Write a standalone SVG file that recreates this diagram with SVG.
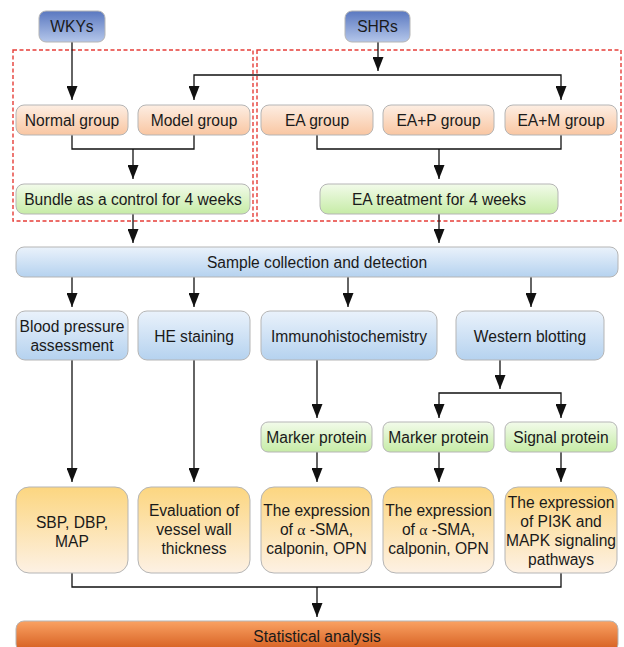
<svg xmlns="http://www.w3.org/2000/svg" width="624" height="647" viewBox="0 0 624 647">
<defs>
<linearGradient id="gBlueD" x1="0" y1="0" x2="0" y2="1"><stop offset="0" stop-color="#5a78c0"/><stop offset="1" stop-color="#b4c6ea"/></linearGradient>
<linearGradient id="gOr" x1="0" y1="0" x2="0" y2="1"><stop offset="0" stop-color="#fdeee3"/><stop offset="1" stop-color="#f9c6a2"/></linearGradient>
<linearGradient id="gGr" x1="0" y1="0" x2="0" y2="1"><stop offset="0" stop-color="#f2fbea"/><stop offset="1" stop-color="#c6eca6"/></linearGradient>
<linearGradient id="gBl" x1="0" y1="0" x2="0" y2="1"><stop offset="0" stop-color="#eaf2fb"/><stop offset="1" stop-color="#b5d2ef"/></linearGradient>
<linearGradient id="gYe" x1="0" y1="0" x2="0" y2="1"><stop offset="0" stop-color="#fcd680"/><stop offset="1" stop-color="#fdf1e4"/></linearGradient>
<linearGradient id="gSt" x1="0" y1="0" x2="0" y2="1"><stop offset="0" stop-color="#faa263"/><stop offset="1" stop-color="#d35a1c"/></linearGradient>
<marker id="ah" markerWidth="14" markerHeight="11" refX="14" refY="5.5" orient="auto-start-reverse" markerUnits="userSpaceOnUse" viewBox="0 0 14 11">
<path d="M0,0 L14,5.5 L0,11 Z" fill="#111"/>
</marker>
</defs>
<style>
text{font-family:"Liberation Sans",Arial,sans-serif;font-size:15.6px;fill:#1a1a1a;text-anchor:middle}
.box{stroke:#b5b5b5;stroke-width:1}
.ln{fill:none;stroke:#111;stroke-width:1.3}
.dash{fill:none;stroke:#e63e38;stroke-width:1.4;stroke-dasharray:4,2.5}
.al{font-family:"Liberation Serif","DejaVu Serif",serif}
</style>

<rect class="dash" x="13" y="50" width="240" height="171"/>
<rect class="dash" x="257" y="50" width="364" height="171"/>

<g id="connectors">
<path class="ln" d="M72,42 V100" marker-end="url(#ah)"/>
<path class="ln" d="M378,42 V71" marker-end="url(#ah)"/>
<path class="ln" d="M194,100 V75 H561 V100" marker-end="url(#ah)" marker-start="url(#ah)"/>
<path class="ln" d="M72,135 V149 H194 V135"/>
<path class="ln" d="M133,149 V179" marker-end="url(#ah)"/>
<path class="ln" d="M317,135 V149 H561 V135"/>
<path class="ln" d="M439,149 V179" marker-end="url(#ah)"/>
<path class="ln" d="M133,214 V243" marker-end="url(#ah)"/>
<path class="ln" d="M439,214 V243" marker-end="url(#ah)"/>
<path class="ln" d="M72,277 V307" marker-end="url(#ah)"/>
<path class="ln" d="M194,277 V307" marker-end="url(#ah)"/>
<path class="ln" d="M348,277 V307" marker-end="url(#ah)"/>
<path class="ln" d="M531,277 V307" marker-end="url(#ah)"/>
<path class="ln" d="M72,360 V482" marker-end="url(#ah)"/>
<path class="ln" d="M194,360 V482" marker-end="url(#ah)"/>
<path class="ln" d="M317,360 V418" marker-end="url(#ah)"/>
<path class="ln" d="M500,360 V389" marker-end="url(#ah)"/>
<path class="ln" d="M439,418 V393 H561 V418" marker-end="url(#ah)" marker-start="url(#ah)"/>
<path class="ln" d="M317,452 V482" marker-end="url(#ah)"/>
<path class="ln" d="M439,452 V482" marker-end="url(#ah)"/>
<path class="ln" d="M561,452 V482" marker-end="url(#ah)"/>
<path class="ln" d="M72,573 V587 H561 V573"/>
<path class="ln" d="M317,587 V617" marker-end="url(#ah)"/>
</g>

<g id="wkys"><rect class="box" x="39" y="11" width="66" height="31" rx="7" fill="url(#gBlueD)"/><text x="72" y="32">WKYs</text></g>
<g id="shrs"><rect class="box" x="345" y="11" width="65" height="31" rx="7" fill="url(#gBlueD)"/><text x="377.5" y="32">SHRs</text></g>

<g id="normal"><rect class="box" x="16" y="105" width="112" height="30" rx="8" fill="url(#gOr)"/><text x="72" y="125.5">Normal group</text></g>
<g id="model"><rect class="box" x="138" y="105" width="112" height="30" rx="8" fill="url(#gOr)"/><text x="194" y="125.5">Model group</text></g>
<g id="ea"><rect class="box" x="261" y="105" width="112" height="30" rx="8" fill="url(#gOr)"/><text x="317" y="125.5">EA group</text></g>
<g id="eap"><rect class="box" x="383" y="105" width="111" height="30" rx="8" fill="url(#gOr)"/><text x="438.5" y="125.5">EA+P group</text></g>
<g id="eam"><rect class="box" x="505" y="105" width="112" height="30" rx="8" fill="url(#gOr)"/><text x="561" y="125.5">EA+M group</text></g>

<g id="bundle"><rect class="box" x="16" y="184" width="234" height="30" rx="8" fill="url(#gGr)"/><text x="133" y="204.5">Bundle as a control for 4 weeks</text></g>
<g id="eatreat"><rect class="box" x="320" y="184" width="238" height="30" rx="8" fill="url(#gGr)"/><text x="439" y="204.5">EA treatment for 4 weeks</text></g>

<g id="sample"><rect class="box" x="16" y="247" width="602" height="30" rx="8" fill="url(#gBl)"/><text x="317" y="267.5">Sample collection and detection</text></g>

<g id="bp"><rect class="box" x="16" y="311" width="112" height="49" rx="9" fill="url(#gBl)"/><text x="72" y="332">Blood pressure</text><text x="72" y="351">assessment</text></g>
<g id="he"><rect class="box" x="138" y="311" width="112" height="49" rx="9" fill="url(#gBl)"/><text x="194" y="341.5">HE staining</text></g>
<g id="ihc"><rect class="box" x="261" y="311" width="176" height="49" rx="9" fill="url(#gBl)"/><text x="349" y="341.5">Immunohistochemistry</text></g>
<g id="wb"><rect class="box" x="456" y="311" width="148" height="49" rx="9" fill="url(#gBl)"/><text x="530" y="341.5">Western blotting</text></g>

<g id="marker1"><rect class="box" x="261" y="422" width="111" height="30" rx="7" fill="url(#gGr)"/><text x="316.5" y="442.5">Marker protein</text></g>
<g id="marker2"><rect class="box" x="383" y="422" width="111" height="30" rx="7" fill="url(#gGr)"/><text x="438.5" y="442.5">Marker protein</text></g>
<g id="signal"><rect class="box" x="505" y="422" width="112" height="30" rx="7" fill="url(#gGr)"/><text x="561" y="442.5">Signal protein</text></g>

<g id="sbp"><rect class="box" x="16" y="487" width="112" height="86" rx="13" fill="url(#gYe)"/><text x="72" y="527.5">SBP, DBP,</text><text x="72" y="546.5">MAP</text></g>
<g id="eval"><rect class="box" x="138" y="487" width="112" height="86" rx="13" fill="url(#gYe)"/><text x="194" y="515.5">Evaluation of</text><text x="194" y="534.5">vessel wall</text><text x="194" y="553.5">thickness</text></g>
<g id="expr1"><rect class="box" x="261" y="487" width="111" height="86" rx="13" fill="url(#gYe)"/><text x="316.5" y="515.5">The expression</text><text x="316.5" y="534.5">of <tspan class="al">α</tspan> -SMA,</text><text x="316.5" y="553.5">calponin, OPN</text></g>
<g id="expr2"><rect class="box" x="383" y="487" width="111" height="86" rx="13" fill="url(#gYe)"/><text x="438.5" y="515.5">The expression</text><text x="438.5" y="534.5">of <tspan class="al">α</tspan> -SMA,</text><text x="438.5" y="553.5">calponin, OPN</text></g>
<g id="expr3"><rect class="box" x="505" y="487" width="112" height="86" rx="13" fill="url(#gYe)"/><text x="561" y="507.5">The expression</text><text x="561" y="526.5">of PI3K and</text><text x="561" y="546">MAPK signaling</text><text x="561" y="565">pathways</text></g>

<g id="stat"><rect class="box" x="16" y="621" width="602" height="31" rx="8" fill="url(#gSt)"/><text x="317" y="641.5">Statistical analysis</text></g>
</svg>
